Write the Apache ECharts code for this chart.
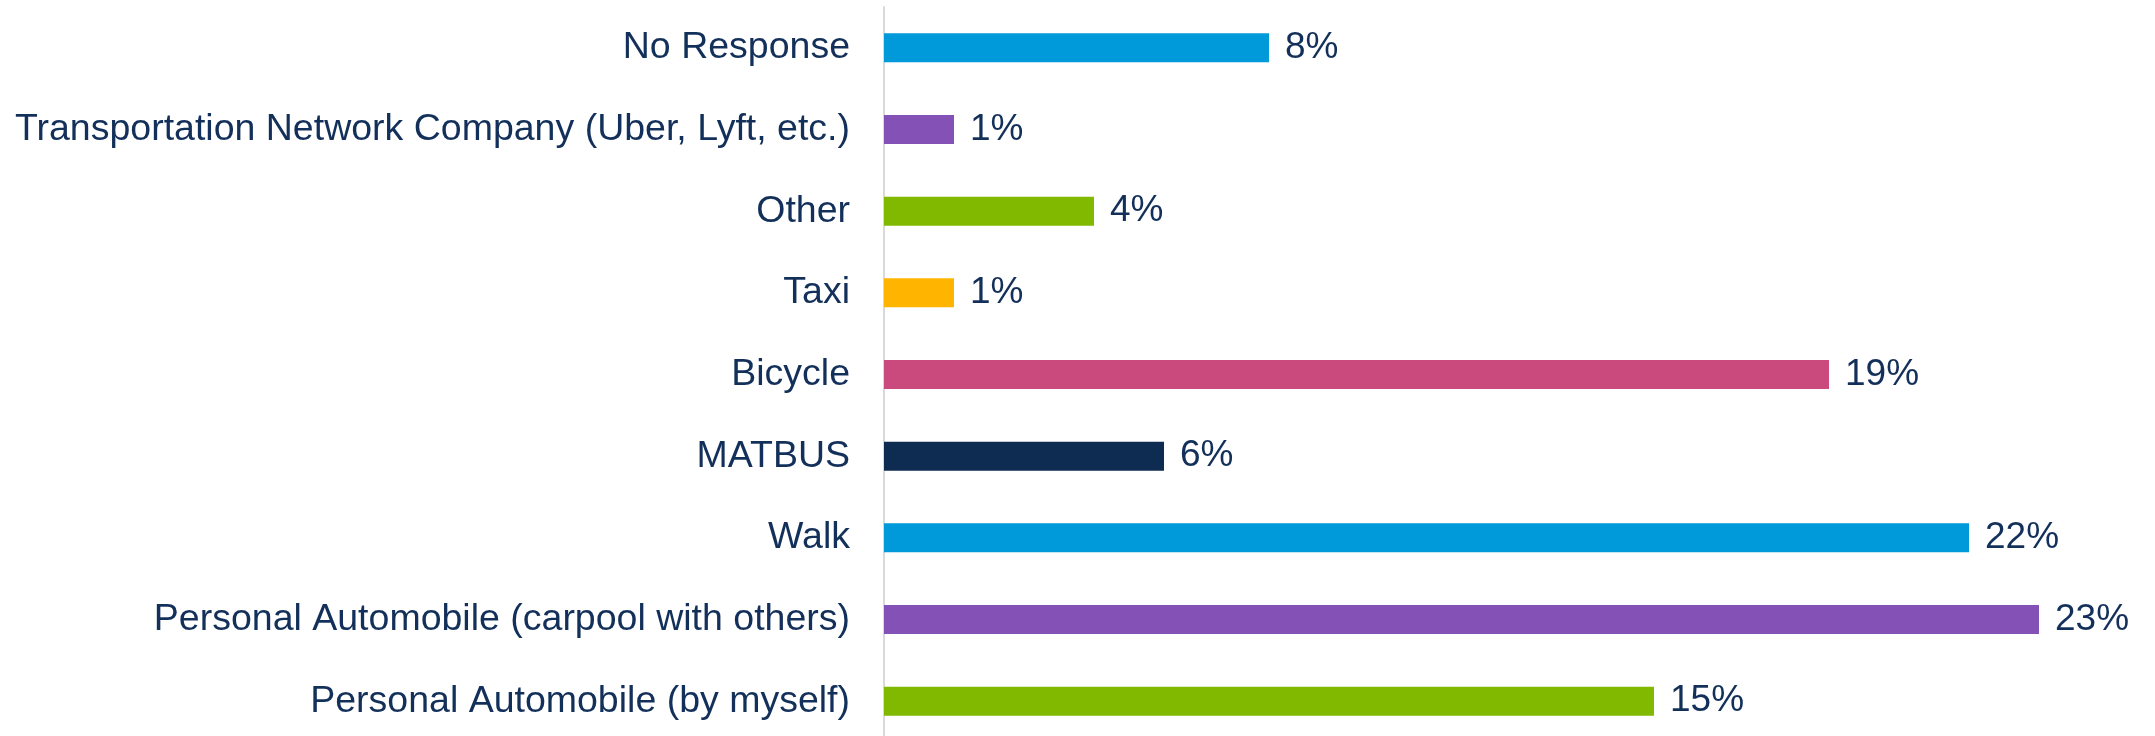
<!DOCTYPE html>
<html lang="en">
<head>
    <meta charset="UTF-8">
    <title>Mode of transportation</title>
    <script src="https://cdn.jsdelivr.net/npm/echarts@6/dist/echarts.min.js"></script>
    <style>
        html, body { margin: 0; padding: 0; background: #ffffff; }
        #chart { width: 2155px; height: 736px; }
    </style>
</head>
<body>
<div id="chart"></div>
<script>
    // categories, top to bottom
    var categories = [
        'No Response',
        'Transportation Network Company (Uber, Lyft, etc.)',
        'Other',
        'Taxi',
        'Bicycle',
        'MATBUS',
        'Walk',
        'Personal Automobile (carpool with others)',
        'Personal Automobile (by myself)'
    ];
    // share of responses, %
    var values = [7.7, 1.4, 4.2, 1.4, 18.9, 5.6, 21.7, 23.1, 15.4];
    var barColors = ['#0099d9', '#8452b6', '#81b800', '#ffb400', '#cb4a7e', '#0e2b52', '#0099d9', '#8452b6', '#81b800'];

    var textColor = '#13305a';

    var chart = echarts.init(document.getElementById('chart'));
    chart.setOption({
        animation: false,
        // plot area runs a little past the bottom edge, as in the original
        grid: { left: 884, right: 21, top: 7, height: 735, containLabel: false, outerBoundsMode: 'none' },
        xAxis: {
            type: 'value',
            min: 0,
            max: 25,
            show: false
        },
        yAxis: {
            type: 'category',
            inverse: true,
            data: categories,
            axisLine: { show: true, lineStyle: { color: '#d9d9d9', width: 2 } },
            axisTick: { show: false },
            axisLabel: {
                margin: 34,
                color: textColor,
                fontFamily: 'Liberation Sans, Arial, sans-serif',
                fontSize: 37.5,
                padding: [20, 0, 0, 0]
            }
        },
        series: [{
            type: 'bar',
            barWidth: '35.5%',
            data: values.map(function (v, i) {
                return { value: v, itemStyle: { color: barColors[i] } };
            }),
            label: {
                show: true,
                position: 'right',
                distance: 16,
                color: textColor,
                fontFamily: 'Liberation Sans, Arial, sans-serif',
                fontSize: 37,
                padding: [20, 0, 0, 0],
                formatter: function (p) { return Math.round(p.value) + '%'; }
            }
        }]
    });
</script>
</body>
</html>
